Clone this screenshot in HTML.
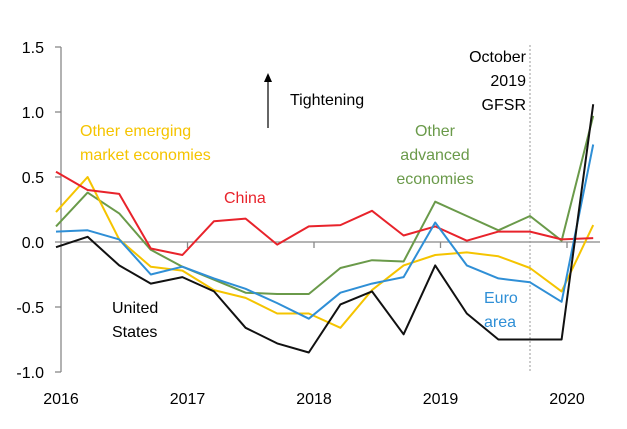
<!DOCTYPE html>
<html><head><meta charset="utf-8"><style>
body{margin:0;background:#fff;}
svg text{font-family:"Liberation Sans",Arial,sans-serif;}
</style></head><body>
<svg id="chart" width="627" height="424" viewBox="0 0 627 424" xmlns="http://www.w3.org/2000/svg">
<g id="axes"></g>
<g id="series"></g>
<g id="labels" font-size="16">
<text x="80" y="136" fill="#f5c400">Other emerging</text>
<text x="80" y="160" fill="#f5c400">market economies</text>
<text x="224" y="203" fill="#e8232b">China</text>
<text x="435" y="136" fill="#6a9a4a" text-anchor="middle">Other</text>
<text x="435" y="160" fill="#6a9a4a" text-anchor="middle">advanced</text>
<text x="435" y="184" fill="#6a9a4a" text-anchor="middle">economies</text>
<text x="526" y="62" fill="#000" text-anchor="end">October</text>
<text x="526" y="86" fill="#000" text-anchor="end">2019</text>
<text x="526" y="110" fill="#000" text-anchor="end">GFSR</text>
<text x="112" y="313" fill="#000">United</text>
<text x="112" y="337" fill="#000">States</text>
<text x="484" y="303" fill="#2f8fd6">Euro</text>
<text x="484" y="327" fill="#2f8fd6">area</text>
<text x="290" y="105" fill="#000">Tightening</text>
<line x1="268" y1="128" x2="268" y2="80" stroke="#000" stroke-width="1.2"/>
<polygon points="264,82 272,82 268,73" fill="#000"/>
</g>
</svg>
<script>
const yTicks=[1.5,1.0,0.5,0.0,-0.5,-1.0];
const yTickLabels=["1.5","1.0","0.5","0.0","-0.5","-1.0"];
const years=["2016","2017","2018","2019","2020"];
const china=[0.54,0.40,0.37,-0.05,-0.10,0.16,0.18,-0.02,0.12,0.13,0.24,0.05,0.12,0.01,0.08,0.08,0.02,0.03];
const otherEM=[0.23,0.50,0.02,-0.19,-0.22,-0.37,-0.43,-0.55,-0.55,-0.66,-0.37,-0.18,-0.10,-0.08,-0.11,-0.20,-0.38,0.13];
const otherAdv=[0.12,0.38,0.22,-0.06,-0.19,-0.29,-0.39,-0.40,-0.40,-0.20,-0.14,-0.15,0.31,0.20,0.09,0.20,0.01,0.97];
const euro=[0.08,0.09,0.02,-0.25,-0.19,-0.28,-0.36,-0.47,-0.59,-0.39,-0.32,-0.27,0.15,-0.18,-0.28,-0.31,-0.46,0.75];
const us=[-0.04,0.04,-0.18,-0.32,-0.27,-0.38,-0.66,-0.78,-0.85,-0.48,-0.38,-0.71,-0.18,-0.55,-0.75,-0.75,-0.75,1.06];
const NS="http://www.w3.org/2000/svg";
const xs=i=>56+i*31.6;
const ys=v=>242-v*130;
const yearX=j=>61+j*126.5;
const axes=document.getElementById('axes'), ser=document.getElementById('series');
function mk(tag,attrs,parent){const e=document.createElementNS(NS,tag);for(const k in attrs)e.setAttribute(k,attrs[k]);parent.appendChild(e);return e;}
let e=mk('line',{x1:61,y1:ys(1.5),x2:61,y2:ys(-1.0),stroke:'#888','stroke-width':1.3},axes);


yTicks.forEach((v,i)=>{
 let t=mk('line',{x1:55,y1:ys(v),x2:61,y2:ys(v),stroke:'#888','stroke-width':1.3},axes);
 
 
 let l=mk('text',{x:44,y:ys(v)+6,'text-anchor':'end','font-size':16,fill:'#000'},axes);
 l.textContent=yTickLabels[i];
 
 
});
e=mk('line',{x1:61,y1:ys(0),x2:600,y2:ys(0),stroke:'#888','stroke-width':1.3},axes);


years.forEach((y,j)=>{
 if(j>0){let t=mk('line',{x1:yearX(j),y1:ys(0),x2:yearX(j),y2:ys(0)+6,stroke:'#888','stroke-width':1.3},axes);
 
 }
 let l=mk('text',{x:yearX(j),y:404,'text-anchor':'middle','font-size':16,fill:'#000'},axes);
 l.textContent=y;
 
 
});
e=mk('line',{x1:530,y1:45,x2:530,y2:372,stroke:'#999','stroke-width':1,'stroke-dasharray':'2,2'},axes);


[[otherAdv,'#6a9a4a','series-other-advanced'],[otherEM,'#f5c400','series-other-emerging'],[china,'#e8232b','series-china'],[euro,'#2f8fd6','series-euro-area'],[us,'#111','series-united-states']].forEach(([d,c,n])=>{
 let p=mk('polyline',{points:d.map((v,i)=>xs(i)+','+ys(v)).join(' '),fill:'none',stroke:c,'stroke-width':2,'stroke-linejoin':'round'},ser);
 
 
});
</script>
</body></html>
